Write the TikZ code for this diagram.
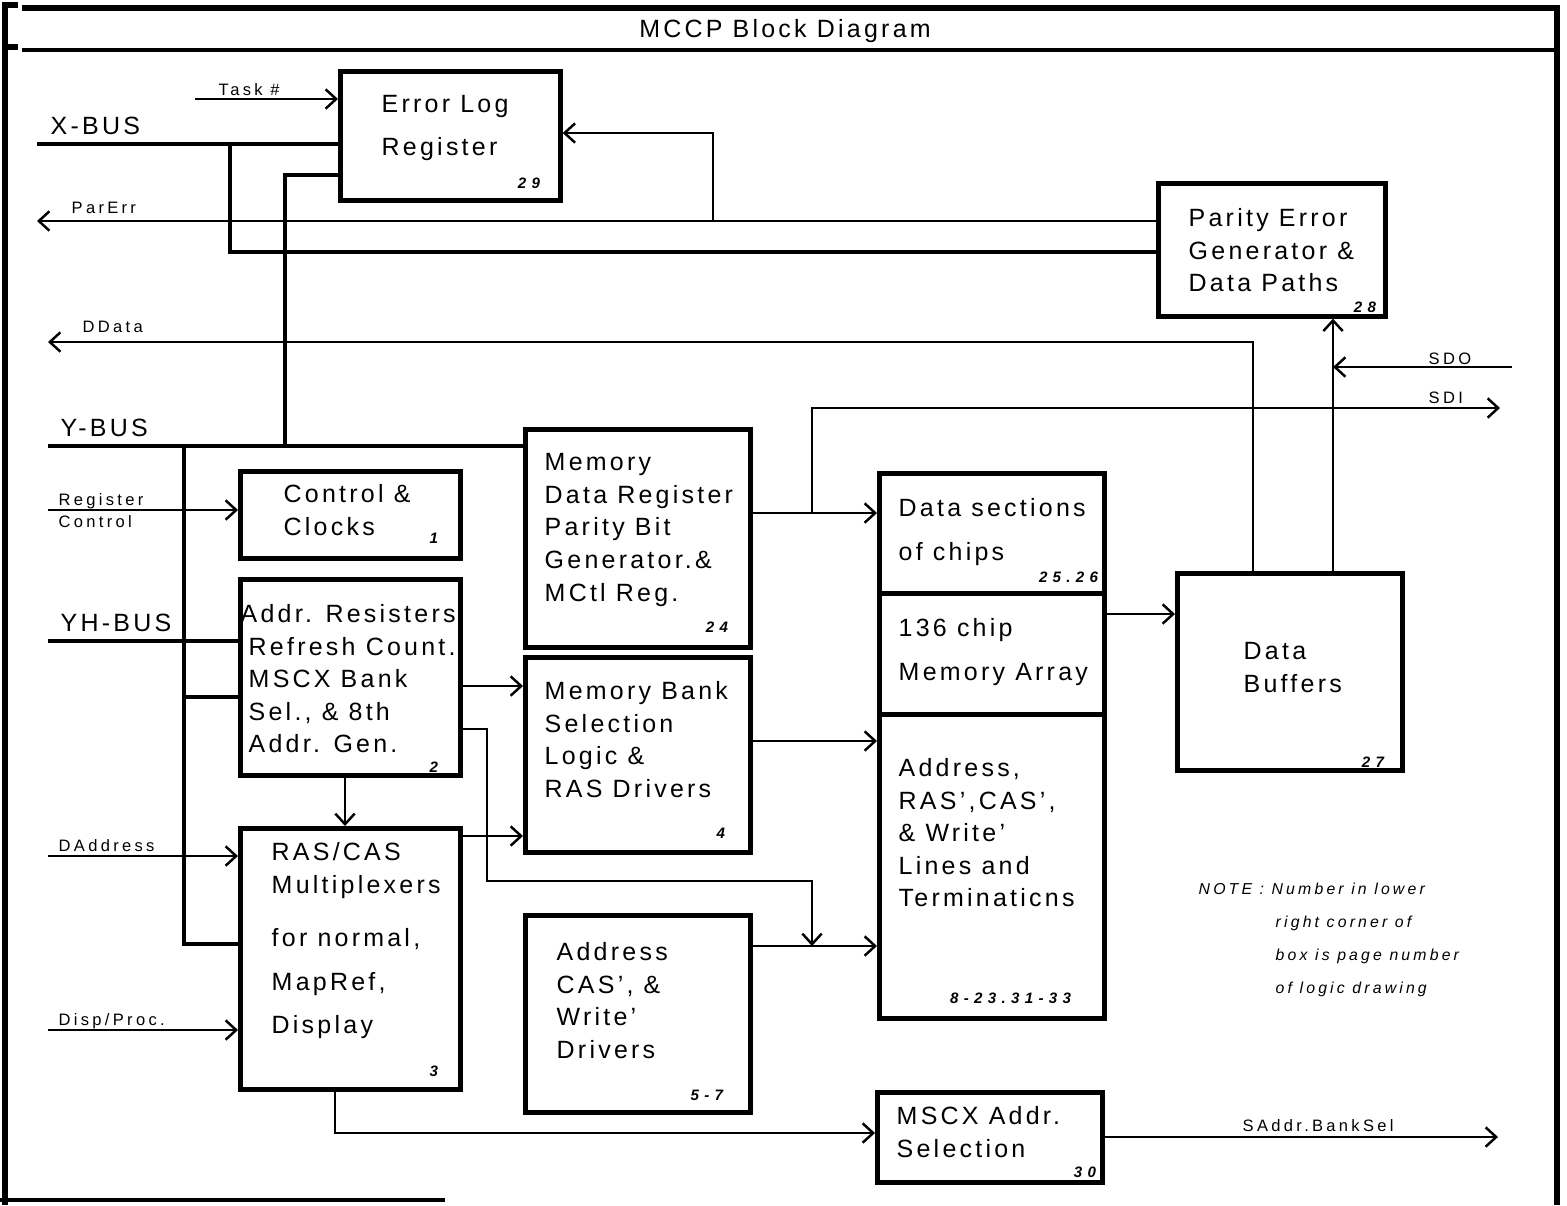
\documentclass[tikz,border=0pt]{standalone}
\usepackage{fontspec}
\usetikzlibrary{arrows.meta}
\newfontfamily\blkfont{Liberation Sans}[LetterSpace=13,Ligatures=TeX]
\newfontfamily\sigfont{Liberation Sans}[LetterSpace=20,Ligatures=TeX]
\newfontfamily\numfont{Liberation Sans}[LetterSpace=35]
\tikzset{
  blk/.style={draw, line width=1.3pt, inner sep=0pt, anchor=north west},
  txt/.style={font=\blkfont\fontsize{7.1}{9.25}\selectfont, align=left, inner sep=0pt, anchor=north west},
  buslbl/.style={font=\blkfont\fontsize{7.1}{8}\selectfont, inner sep=0pt, anchor=base west},
  lbl/.style={font=\sigfont\fontsize{4.7}{5}\selectfont, inner sep=0pt, anchor=base west},
  pgno/.style={font=\numfont\fontsize{4.3}{5}\selectfont\bfseries\itshape, inner sep=0pt, anchor=base east},
  bus/.style={line width=1.2pt},
  sig/.style={line width=0.7pt},
  frame/.style={line width=1.7pt},
  >={Straight Barb[length=3pt,width=5.5pt]}
}
\begin{document}
\begin{tikzpicture}[x=0.01cm,y=-0.01cm]
\useasboundingbox (0,0) rectangle (1567,1205);

\draw[frame] (18,5) -- (5,5) -- (5,1205);
\draw[frame] (5,47) -- (18,47);
\draw[frame] (22,8) -- (1557,8) -- (1557,1205);
\draw[line width=1.3pt] (22,50) -- (1557,50);
\draw[line width=1.3pt] (0,1200) -- (445,1200);
\node[font=\blkfont\fontsize{7.1}{8}\selectfont, inner sep=0pt, anchor=base] (title) at (785,37) {MCCP Block Diagram};

\node[blk, minimum width=2.20cm, minimum height=1.29cm] (elr) at (338,69) {};
\node[blk, minimum width=2.27cm, minimum height=1.33cm] (peg) at (1156,181) {};
\node[blk, minimum width=2.20cm, minimum height=0.87cm] (cc) at (238,469) {};
\node[blk, minimum width=2.20cm, minimum height=1.96cm] (ar) at (238,577) {};
\node[blk, minimum width=2.20cm, minimum height=2.61cm] (rc) at (238,826) {};
\node[blk, minimum width=2.25cm, minimum height=2.18cm] (mdr) at (523,427) {};
\node[blk, minimum width=2.25cm, minimum height=1.95cm] (mbs) at (523,655) {};
\node[blk, minimum width=2.25cm, minimum height=1.97cm] (acw) at (523,913) {};
\node[blk, minimum width=2.25cm, minimum height=1.20cm] (dsec) at (877,471) {};
\node[blk, minimum width=2.25cm, minimum height=1.21cm] (marr) at (877,591) {};
\node[blk, minimum width=2.25cm, minimum height=3.04cm] (alin) at (877,712) {};
\node[blk, minimum width=2.25cm, minimum height=1.97cm] (db) at (1175,571) {};
\node[blk, minimum width=2.25cm, minimum height=0.90cm] (msx) at (875,1090) {};

\node[txt] (elrt) at (381,95) {Error Log\\[3pt]Register};
\node[txt] (pegt) at (1188,208) {Parity Error\\Generator \&\\Data Paths};
\node[txt] (cct) at (283,484) {Control \&\\Clocks};
\node[txt] (art) at (248,604) {\hspace*{-0.08cm}Addr. Resisters\\Refresh Count.\\MSCX Bank\\Sel., \& 8th\\Addr. Gen.};
\node[txt] (rct) at (271,842) {RAS/CAS\\Multiplexers\\[6pt]for normal,\\[3pt]MapRef,\\[3pt]Display};
\node[txt] (mdrt) at (544,453) {Memory\\Data Register\\Parity Bit\\Generator.\&\\MCtl Reg.};
\node[txt] (mbst) at (544,681) {Memory Bank\\Selection\\Logic \&\\RAS Drivers};
\node[txt] (acwt) at (556,942) {Address\\CAS’, \&\\Write’\\Drivers};
\node[txt] (dsect) at (898,498) {Data sections\\[3.2pt]of chips};
\node[txt] (marrt) at (898,618) {136 chip\\[3.2pt]Memory Array};
\node[txt] (alint) at (898,758) {Address,\\RAS’,CAS’,\\\& Write’\\Lines and\\Terminaticns};
\node[txt] (dbt) at (1243,642) {Data\\Buffers};
\node[txt] (msxt) at (896,1106) {MSCX Addr.\\Selection};

\node[pgno] (n29) at ([shift={(-0.22cm,0.14cm)}]elr.south east) {29};
\node[pgno] (n28) at ([shift={(-0.11cm,0.06cm)}]peg.south east) {28};
\node[pgno] (n1) at ([shift={(-0.24cm,0.17cm)}]cc.south east) {1};
\node[pgno] (n2) at ([shift={(-0.24cm,0.05cm)}]ar.south east) {2};
\node[pgno] (n3) at ([shift={(-0.24cm,0.15cm)}]rc.south east) {3};
\node[pgno] (n24) at ([shift={(-0.24cm,0.17cm)}]mdr.south east) {24};
\node[pgno] (n4) at ([shift={(-0.27cm,0.16cm)}]mbs.south east) {4};
\node[pgno] (n57) at ([shift={(-0.29cm,0.14cm)}]acw.south east) {5-7};
\node[pgno] (n2526) at ([shift={(-0.08cm,0.13cm)}]dsec.south east) {25.26};
\node[pgno] (n833) at ([shift={(-0.35cm,0.17cm)}]alin.south east) {8-23.31-33};
\node[pgno] (n27) at ([shift={(-0.20cm,0.05cm)}]db.south east) {27};
\node[pgno] (n30) at ([shift={(-0.08cm,0.07cm)}]msx.south east) {30};

\node[buslbl] (xbl) at (50,134) {X-BUS};
\node[buslbl] (ybl) at (60,436) {Y-BUS};
\node[buslbl] (yhbl) at (60,631) {YH-BUS};
\node[lbl] (taskl) at (218,95) {Task \#};
\node[lbl] (parl) at (71,213) {ParErr};
\node[lbl] (ddl) at (82,332) {DData};
\node[lbl] (sdol) at (1428,364) {SDO};
\node[lbl] (sdil) at (1428,403) {SDI};
\node[lbl] (regl) at (58,505) {Register};
\node[lbl] (ctll) at (58,527) {Control};
\node[lbl] (dadl) at (58,851) {DAddress};
\node[lbl] (dpl) at (58,1025) {Disp/Proc.};
\node[lbl] (sabl) at (1242,1131) {SAddr.BankSel};
\node[font=\sigfont\fontsize{4.5}{9.4}\selectfont\itshape, align=left, inner sep=0pt, anchor=north west] (note) at (1275,882)
  {\hspace*{-0.77cm}NOTE : Number in lower\\right corner of\\box is page number\\of logic drawing};

\coordinate (xbus) at (37,144);
\coordinate (xtap) at (230,144);
\coordinate (xlow) at (230,252);
\draw[bus] (xbus) -- (xbus -| elr.west);
\draw[bus] (xtap) -- (xlow) -- (xlow -| peg.west);
\coordinate (eout) at (285,175);
\coordinate (ytap) at (285,446);
\draw[bus] (eout -| elr.west) -- (eout) -- (ytap);
\coordinate (task) at (195,99);
\draw[sig,->] (task) -- (task -| elr.west);

\coordinate (parerr) at (37,221);
\coordinate (pjoin) at (713,221);
\coordinate (pup) at (713,133);
\draw[sig,->] (parerr -| peg.west) -- (parerr);
\draw[sig,->] (pjoin) -- (pup) -- (pup -| elr.east);

\coordinate (ddata) at (48,342);
\coordinate (dcorner) at (1253,342);
\draw[sig,->] (dcorner |- db.north) -- (dcorner) -- (ddata);
\coordinate (pin) at (1333,367);
\coordinate (sdo) at (1512,367);
\draw[sig,->] (pin |- db.north) -- (pin |- peg.south);
\draw[sig,->] (sdo) -- (pin);

\coordinate (ybus) at (48,446);
\coordinate (yvert) at (184,446);
\coordinate (ymid) at (184,697);
\coordinate (ylow) at (184,944);
\draw[bus] (ybus) -- (ybus -| mdr.west);
\draw[bus] (yvert) -- (ylow) -- (ylow -| rc.west);
\draw[bus] (ymid) -- (ymid -| ar.west);
\coordinate (yhbus) at (48,641);
\draw[bus] (yhbus) -- (yhbus -| ar.west);

\coordinate (regctl) at (48,510);
\draw[sig,->] (regctl) -- (regctl -| cc.west);
\coordinate (daddr) at (48,856);
\draw[sig,->] (daddr) -- (daddr -| rc.west);
\coordinate (dispproc) at (48,1030);
\draw[sig,->] (dispproc) -- (dispproc -| rc.west);

\coordinate (a1) at (490,686);
\draw[sig,->] (a1 -| ar.east) -- (a1 -| mbs.west);
\coordinate (a2) at (345,800);
\draw[sig,->] (a2 |- ar.south) -- (a2 |- rc.north);
\coordinate (a3) at (487,729);
\coordinate (a4) at (487,881);
\coordinate (amerge) at (812,946);
\draw[sig,->] (a3 -| ar.east) -- (a3) -- (a4) -| (amerge);
\coordinate (r1) at (490,836);
\draw[sig,->] (r1 -| rc.east) -- (r1 -| mbs.west);
\coordinate (r2) at (335,1133);
\draw[sig,->] (r2 |- rc.south) -- (r2) -- (r2 -| msx.west);

\coordinate (m1) at (812,513);
\coordinate (m2) at (812,408);
\coordinate (sdi) at (1500,408);
\draw[sig,->] (m1 -| mdr.east) -- (m1 -| dsec.west);
\draw[sig,->] (m1) -- (m2) -- (sdi);
\coordinate (b1) at (800,741);
\draw[sig,->] (b1 -| mbs.east) -- (b1 -| alin.west);
\draw[sig,->] (amerge -| acw.east) -- (amerge -| alin.west);
\coordinate (c1) at (1140,614);
\draw[sig,->] (c1 -| marr.east) -- (c1 -| db.west);
\coordinate (saddr) at (1498,1137);
\draw[sig,->] (saddr -| msx.east) -- (saddr);
\end{tikzpicture}
\end{document}
